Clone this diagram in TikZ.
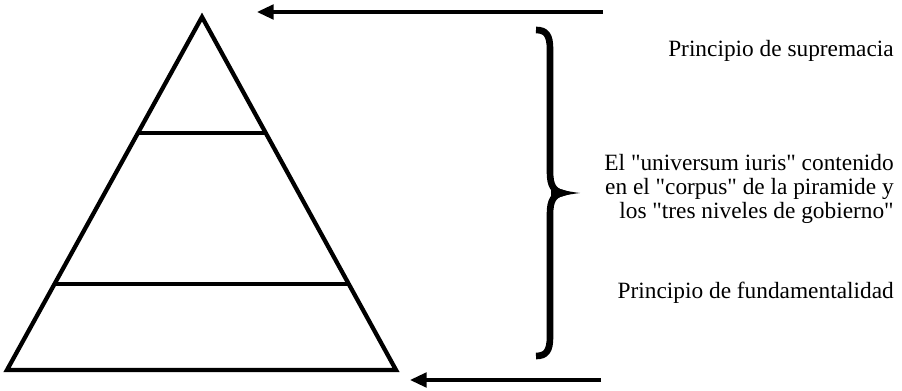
\documentclass[tikz,border=0pt]{standalone}
\usepackage{fontspec}
\setmainfont{Liberation Serif}[Ligatures=TeXOff]
\usetikzlibrary{arrows.meta}
\tikzset{
  level/.style={line width=3.2pt},
  pointer/.style={line width=2.4pt,-{Triangle[length=12.5pt,width=11pt]}},
  brace/.style={line width=5pt},
  note/.style={anchor=east,align=right,inner sep=0pt,
    font=\fontsize{17.5}{18}\selectfont},
}
\begin{document}
\begin{tikzpicture}[x=0.75pt,y=-0.75pt]
\useasboundingbox (0,0) rectangle (902,391);
% piramide
\coordinate (apex) at (202,17);
\coordinate (bl) at (7,370);
\coordinate (br) at (396,370);
\draw[level] (apex) -- (br) -- (bl) -- cycle;
\draw[level] (138,133) -- (266,133);
\draw[level] (55,284) -- (349,284);
% flechas
\coordinate (toptail) at (603,12);
\coordinate (toptip) at (257,12);
\coordinate (bottail) at (601,380);
\coordinate (bottip) at (410,380);
\draw[pointer] (toptail) -- (toptip);
\draw[pointer] (bottail) -- (bottip);
% llave
\draw[brace] (536,30) .. controls (546,30) and (550,35) .. (550,49)
  -- (550,172) .. controls (550,186) and (554,191) .. (562,193)
  .. controls (554,195) and (550,200) .. (550,214)
  -- (550,337) .. controls (550,351) and (546,356) .. (536,356);
\fill (551,180) .. controls (553,189) and (564,191) .. (580,193)
  .. controls (564,195) and (553,197) .. (551,206) -- cycle;
% textos
\node[note] (supremacia) at (894,51) {Principio de supremacia};
\node[note] (corpus) at (894,189) {El "universum iuris" contenido\\
  en el "corpus" de la piramide y\\ los "tres niveles de gobierno"};
\node[note] (fundamental) at (894,293) {Principio de fundamentalidad};
\end{tikzpicture}
\end{document}
